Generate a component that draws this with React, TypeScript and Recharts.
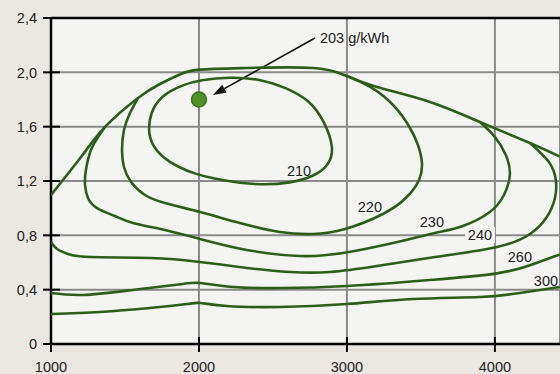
import React from 'react';
import {
  ComposedChart,
  Scatter,
  XAxis,
  YAxis,
  CartesianGrid,
  ReferenceLine,
  ReferenceDot,
} from 'recharts';

// ---- axis ticks ----
const X_TICKS = [1000, 2000, 3000, 4000];
const Y_TICKS = [0, 0.4, 0.8, 1.2, 1.6, 2.0, 2.4];
const X_DOMAIN: [number, number] = [1000, 4440];
const Y_DOMAIN: [number, number] = [0, 2.4];

// ---- contour lines: [rpm, load] ----
const fullLoad: [number, number][] = [
  [1000, 1.082], [1027, 1.134], [1203, 1.377], [1365, 1.598], [1588, 1.811],
  [1736, 1.914], [1878, 1.988], [2007, 2.02], [2324, 2.032], [2770, 2.032],
  [2999, 1.973], [3203, 1.892], [3561, 1.782], [3899, 1.634], [4237, 1.48],
  [4439, 1.38],
];

const contour210: [number, number][] = [
  [1655, 1.575], [1676, 1.708], [1723, 1.796], [1804, 1.863], [1892, 1.907],
  [2007, 1.944], [2210, 1.966], [2412, 1.951], [2581, 1.892], [2750, 1.796],
  [2851, 1.634], [2912, 1.45], [2885, 1.318], [2770, 1.229], [2615, 1.185],
  [2446, 1.171], [2277, 1.185], [2108, 1.215], [1973, 1.252], [1858, 1.303],
  [1750, 1.377], [1682, 1.465],
];

const contour220: [number, number][] = [
  [1588, 1.811], [1534, 1.701], [1493, 1.575], [1480, 1.428], [1493, 1.303],
  [1541, 1.193], [1635, 1.097], [1770, 1.038], [2007, 0.972], [2277, 0.891],
  [2547, 0.825], [2770, 0.81], [2987, 0.847], [3243, 0.957], [3405, 1.082],
  [3487, 1.207], [3507, 1.333], [3480, 1.465], [3426, 1.59], [3324, 1.745],
  [3169, 1.885], [3000, 1.973],
];

const contour230: [number, number][] = [
  [1365, 1.598], [1318, 1.524], [1270, 1.428], [1236, 1.281], [1230, 1.171],
  [1250, 1.075], [1311, 1.001], [1432, 0.942], [1554, 0.891], [1770, 0.839],
  [2007, 0.773], [2324, 0.692], [2682, 0.648], [2973, 0.67], [3311, 0.744],
  [3595, 0.817], [3784, 0.869], [3966, 0.972], [4061, 1.097], [4101, 1.244],
  [4074, 1.391], [4000, 1.524], [3899, 1.634],
];

const contour240: [number, number][] = [
  [1000, 0.751], [1041, 0.699], [1115, 0.663], [1270, 0.64], [1669, 0.633],
  [2007, 0.604], [2324, 0.56], [2615, 0.53], [2885, 0.53], [3203, 0.574],
  [3595, 0.64], [4014, 0.714], [4237, 0.81], [4351, 0.935], [4406, 1.075],
  [4412, 1.207], [4365, 1.34], [4237, 1.48],
];

const contour260: [number, number][] = [
  [1000, 0.375], [1216, 0.361], [1554, 0.398], [1892, 0.442], [2007, 0.449],
  [2230, 0.42], [2547, 0.412], [3000, 0.427], [3561, 0.471], [4014, 0.52],
  [4237, 0.58], [4439, 0.66],
];

const contour300: [number, number][] = [
  [1000, 0.221], [1331, 0.236], [1669, 0.265], [1919, 0.294], [2007, 0.302],
  [2189, 0.28], [2547, 0.272], [3000, 0.294], [3446, 0.331], [3899, 0.346],
  [4169, 0.375], [4439, 0.42],
];

// ---- contour labels ----
const labelTexts = ['210', '220', '230', '240', '260', '300'];
const labelRpm = [2676, 3155, 3574, 3899, 4169, 4345];
const labelLoad = [1.274, 1.009, 0.898, 0.802, 0.64, 0.464];

// ---- optimum point annotation ----
const optimumPoint = { rpm: 2000, load: 1.8 };
const arrowTail = { rpm: 2784, load: 2.253 };
const arrowTip = { rpm: 2095, load: 1.833 };
const annotationText = '203 g/kWh';

const toPts = (arr: [number, number][]) => arr.map(([x, y]) => ({ x, y }));
const labelData = labelTexts.map((t, i) => ({ x: labelRpm[i], y: labelLoad[i], text: t }));

const CURVE = '#2f5c1e';
const FONT = '"Liberation Sans", Arial, sans-serif';
const PLOT_BG = '#f4f4f3';
const OUTER_BG = '#ebe8e4';

const NoShape = () => <g />;

const LabelShape = (props: any) => {
  const { cx, cy, payload } = props;
  const withBox = payload.text === '240';
  return (
    <g>
      {withBox && <rect x={cx - 15} y={cy - 8} width={30} height={16} fill={PLOT_BG} />}
      <text
        x={cx}
        y={cy}
        dy="0.36em"
        textAnchor="middle"
        fontFamily={FONT}
        fontSize={14.5}
        fill="#222"
      >
        {payload.text}
      </text>
    </g>
  );
};

const XTick = (props: any) => {
  const { x, y, payload } = props;
  return (
    <g>
      <line x1={x} x2={x} y1={y - 25} y2={y - 10} stroke="#000" strokeWidth={2} />
      <text x={x} y={y} dy="0.71em" textAnchor="middle" fontFamily={FONT} fontSize={14.5} fill="#222">
        {payload.value}
      </text>
    </g>
  );
};

const fmtY = (v: number) => (v === 0 ? '0' : v.toFixed(1).replace('.', ','));

const YTick = (props: any) => {
  const { x, y, payload } = props;
  return (
    <g>
      <line x1={x + 6} x2={x + 23} y1={y} y2={y} stroke="#000" strokeWidth={2} />
      <text x={x} y={y} dy="0.36em" textAnchor="end" fontFamily={FONT} fontSize={14.5} fill="#222">
        {fmtY(payload.value)}
      </text>
    </g>
  );
};

const ArrowShape = (props: any) => {
  const { x1, y1, x2, y2 } = props;
  const ang = Math.atan2(y2 - y1, x2 - x1);
  const len = 13;
  const half = 4.5;
  const bx = x2 - len * Math.cos(ang);
  const by = y2 - len * Math.sin(ang);
  const px = -Math.sin(ang) * half;
  const py = Math.cos(ang) * half;
  return (
    <g>
      <line x1={x1} y1={y1} x2={bx} y2={by} stroke="#111" strokeWidth={1.6} />
      <polygon
        points={`${x2},${y2} ${bx + px},${by + py} ${bx - px},${by - py}`}
        fill="#111"
      />
      <text x={x1 + 5} y={y1} dy="0.36em" fontFamily={FONT} fontSize={14.5} fill="#222">
        {annotationText}
      </text>
    </g>
  );
};

const contours = [fullLoad, contour220, contour230, contour240, contour260, contour300];

export default function App() {
  return (
    <div
      style={{
        position: 'absolute',
        left: 0,
        top: 0,
        width: 560,
        height: 374,
        background: OUTER_BG,
        overflow: 'hidden',
      }}
    >
      <ComposedChart width={560} height={374} margin={{ top: 18, right: 0, bottom: 0, left: 0 }}>
        <CartesianGrid fill={PLOT_BG} stroke="#8a8a8a" strokeWidth={2} />
        <XAxis
          type="number"
          dataKey="x"
          domain={X_DOMAIN}
          ticks={X_TICKS}
          allowDataOverflow
          height={30}
          tickSize={8}
          tickMargin={10}
          tickLine={false}
          tick={<XTick />}
          axisLine={{ stroke: '#000', strokeWidth: 2.5 }}
        />
        <YAxis
          type="number"
          dataKey="y"
          domain={Y_DOMAIN}
          ticks={Y_TICKS}
          allowDataOverflow
          width={51}
          tickSize={8}
          tickMargin={6}
          tickLine={false}
          tick={<YTick />}
          axisLine={{ stroke: '#000', strokeWidth: 2.5 }}
        />
        <ReferenceLine y={2.4} stroke="#000" strokeWidth={2.5} />
        {contours.map((c, i) => (
          <Scatter
            key={i}
            data={toPts(c)}
            line={{ stroke: CURVE, strokeWidth: 2.6, fill: 'none' }}
            lineType="joint"
            lineJointType="natural"
            shape={NoShape}
            isAnimationActive={false}
          />
        ))}
        <Scatter
          data={toPts(contour210)}
          line={{ stroke: CURVE, strokeWidth: 2.6, fill: 'none' }}
          lineType="joint"
          lineJointType="basisClosed"
          shape={NoShape}
          isAnimationActive={false}
        />
        <Scatter data={labelData} shape={LabelShape} isAnimationActive={false} />
        <ReferenceDot
          x={optimumPoint.rpm}
          y={optimumPoint.load}
          r={7.5}
          fill="#4f8f2c"
          stroke="#3a6e22"
          strokeWidth={1.5}
        />
        <ReferenceLine
          segment={[
            { x: arrowTail.rpm, y: arrowTail.load },
            { x: arrowTip.rpm, y: arrowTip.load },
          ]}
          shape={ArrowShape}
        />
      </ComposedChart>
    </div>
  );
}
